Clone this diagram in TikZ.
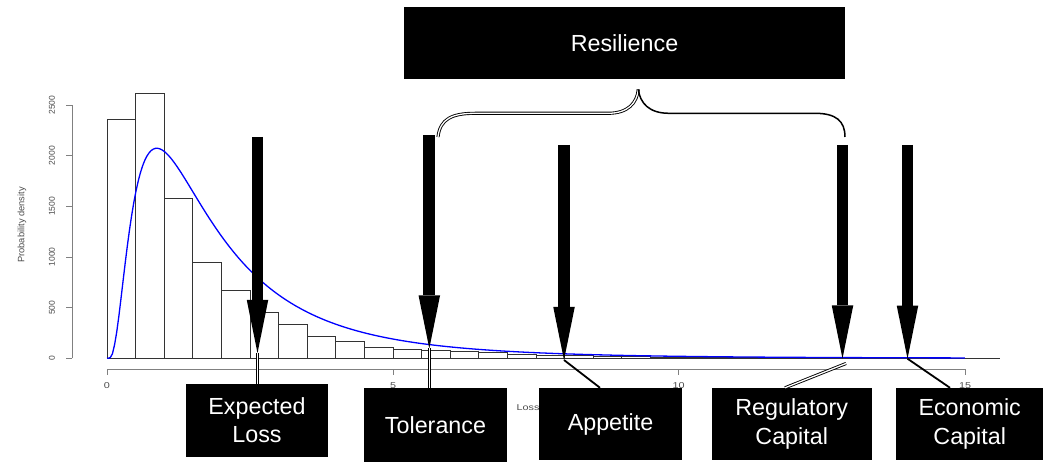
\documentclass[tikz,border=0pt]{standalone}
\usepackage{fontspec}
\setmainfont{Liberation Sans}
\usepackage{graphicx}
\usetikzlibrary{arrows.meta,calc}
\begin{document}
\begin{tikzpicture}[x=1pt,y=-1pt,
  box/.style={fill=black,text=white,inner sep=0pt,align=center,font=\fontsize{23.3}{28.3}\selectfont},
  bigarrow/.style={line width=11.7pt,-{Triangle[length=53pt,width=21.5pt,line width=0pt]}},
  dbl/.style={draw=black,double=white,double distance=1.3pt,line width=0.9pt},
  lead/.style={draw=black,line width=1.8pt},
  axisline/.style={draw=black!50,line width=0.9pt},
  ticklab/.style={text=black!70,font=\fontsize{8.5}{10}\selectfont,inner sep=0pt},
  bar/.style={draw=black!80,line width=0.8pt},
  density/.style={draw=blue,line width=1.3pt}]
\useasboundingbox (0,0) rectangle (1045,470);

% histogram
\foreach \h [count=\i from 0] in {239,265,160,95.6,67.6,46,34,22.3,17.3,10.8,9.3,8.3,6.6,5.6,4.3,3.3,3,2.3,1.6,1,0.9,0.8,0.7,0.6,0.5,0.4,0.3,0.3,0.2,0.2,0.2}
  \draw[bar] ({107+28.6*\i},358.3) rectangle ++(28.6,-\h);
\draw[bar] (107,358.3) -- (1000,358.3);

% y axis
\draw[axisline] (72,358.3) -- (72,105);
\foreach \v in {0,500,1000,1500,2000,2500}{
  \draw[axisline] (72,{358.3-0.10132*\v}) -- (66,{358.3-0.10132*\v});
  \node[ticklab,rotate=90] (yl\v) at (52,{358.3-0.10132*\v}) {\v};
}
\node[ticklab,rotate=90,font=\fontsize{9.3}{11}\selectfont] (ylab) at (22,225) {Probability density};

% x axis
\draw[axisline] (107,369.3) -- (965,369.3);
\foreach \u/\px in {0/107,5/393,10/678.5,15/965}{
  \draw[axisline] (\px,369.3) -- (\px,375);
  \node[ticklab] (xl\u) at (\px,385.7) {\scalebox{1.27}[1]{\u}};
}
\node[ticklab] (xlab) at (528,408) {\scalebox{1.27}[1]{Loss}};

% density curve
\draw[density] (107,358.3) -- plot[domain=0.02:15,samples=400]
  ({107+57.2*\x},{358.3-210*exp(-(pow(ln(\x/0.87),2))/1.28)});

% arrow coordinates
\coordinate (elTop) at (257.5,137);
\coordinate (elTip) at (257.5,353);
\coordinate (tolTop) at (429.3,135.5);
\coordinate (tolTip) at (429.3,348.5);
\coordinate (appTop) at (564,145);
\coordinate (appTip) at (564,360);
\coordinate (regTop) at (842.5,145);
\coordinate (regTip) at (842.5,358.5);
\coordinate (ecoTop) at (907.5,145);
\coordinate (ecoTip) at (907.5,358.7);

% boxes
\node[box,minimum width=142pt,minimum height=73pt] (el) at (257,420.5) {Expected\\Loss};
\node[box,minimum width=143pt,minimum height=74pt] (tol) at (435.5,425) {Tolerance};
\node[box,minimum width=143pt,minimum height=72pt] (app) at (610.5,424) {Appetite};
\node[box,minimum width=160pt,minimum height=72pt] (reg) at (791.7,424) {Regulatory\\Capital};
\node[box,minimum width=147pt,minimum height=72pt] (eco) at (969.7,424) {Economic\\Capital};
\node[box,minimum width=441pt,minimum height=72pt] (res) at (624.5,43) {Resilience};

% big arrows
\draw[bigarrow] (elTop) -- (elTip);
\draw[bigarrow] (tolTop) -- (tolTip);
\draw[bigarrow] (appTop) -- (appTip);
\draw[bigarrow] (regTop) -- (regTip);
\draw[bigarrow] (ecoTop) -- (ecoTip);

% leaders from arrow tips to boxes
\draw[dbl] (elTip) -- (elTip |- el.north);
\draw[dbl] (tolTip) -- (tolTip |- tol.north);
\draw[lead] (appTip) -- ($(app.north)+(-10.5,0)$);
\coordinate (regLead) at (846,363.5);
\draw[dbl] (regLead) -- ($(reg.north)+(-6.7,0)$);
\draw[lead] (ecoTip) -- ($(eco.north)+(-19.7,0)$);

% brace
\coordinate (bl) at (438,137);
\coordinate (bm) at (638.3,89.3);
\coordinate (br) at (845,137);
\draw[dbl] (bl) .. controls (440,119) and (452,113.3) .. (475,113.3) -- (608,113.3) .. controls (628,113.3) and (637,103) .. (bm);
\draw[line width=1.5pt] (bm) .. controls (640,103) and (649,113.3) .. (669,113.3) -- (815,113.3) .. controls (836,113.3) and (845,121) .. (br);
\end{tikzpicture}
\end{document}
